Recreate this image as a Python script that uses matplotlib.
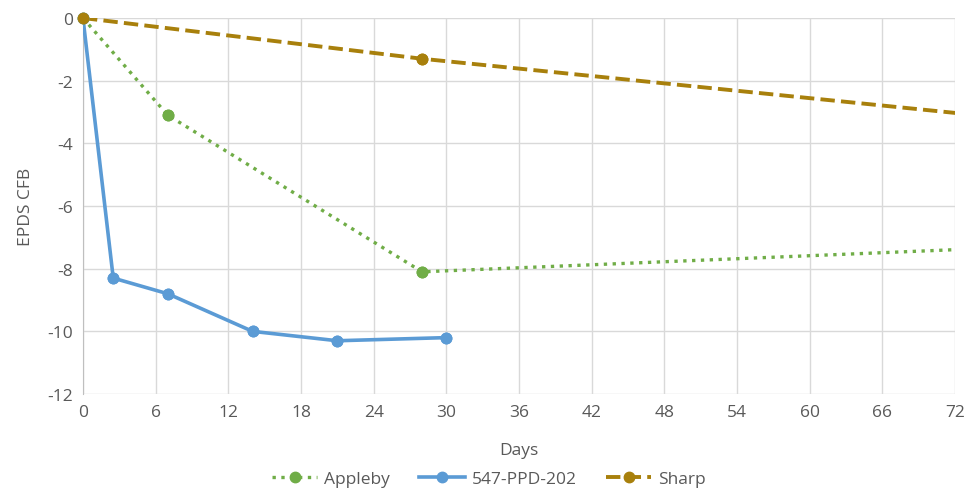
import matplotlib.pyplot as plt

plt.rcParams['font.family'] = ['Open Sans', 'DejaVu Sans']
plt.rcParams['axes.unicode_minus'] = False

# data
appleby_days = [0, 7, 28, 84]
appleby_cfb = [0, -3.1, -8.1, -7.2]

ppd_days = [0, 2.5, 7, 14, 21, 30]
ppd_cfb = [0, -8.3, -8.8, -10.0, -10.3, -10.2]

sharp_days = [0, 28, 84]
sharp_cfb = [0, -1.3, -3.5]

x_ticks = list(range(0, 73, 6))
y_ticks = list(range(-12, 1, 2))

green = '#70AD47'
blue = '#5B9BD5'
gold = '#A8800C'
txt = '#595959'

fig = plt.figure(figsize=(9.68, 4.89), dpi=100)
ax = fig.add_axes([0.0857, 0.1922, 0.9009, 0.7689])

series = [
    ('Appleby', appleby_days, appleby_cfb, green, ':', 2.4),
    ('547-PPD-202', ppd_days, ppd_cfb, blue, '-', 2.6),
    ('Sharp', sharp_days, sharp_cfb, gold, '--', 2.8),
]

for name, xs, ys, col, ls, lw in series:
    ax.plot(xs, ys, color=col, linestyle=ls, linewidth=lw, marker='o',
            markersize=7.5, label=name, zorder=3)
    # markers inside the range drawn unclipped so the ones on the edge show fully
    inx = [x for x in xs if x <= 72]
    iny = [y for x, y in zip(xs, ys) if x <= 72]
    ax.plot(inx, iny, linestyle='none', marker='o', markersize=7.5, color=col,
            clip_on=False, zorder=4)

ax.set_xlim(0, 72)
ax.set_ylim(-12, 0)
ax.set_xticks(x_ticks)
ax.set_yticks(y_ticks)
ax.grid(True, color='#D9D9D9', linewidth=1)
ax.set_axisbelow(True)
for s in ['top', 'right', 'bottom']:
    ax.spines[s].set_visible(False)
ax.spines['left'].set_color('#BFBFBF')
ax.tick_params(length=0, labelsize=12.5, colors=txt, pad=7)

ax.set_xlabel('Days', fontsize=12.5, color=txt, labelpad=16)
ax.set_ylabel('EPDS CFB', fontsize=12.5, color=txt, labelpad=10)

handles, labels = ax.get_legend_handles_labels()
fig.legend(handles[:3], labels[:3], loc='lower center', ncol=3, frameon=False,
           fontsize=12.5, bbox_to_anchor=(0.505, -0.03), handlelength=2.6,
           handletextpad=0.4, columnspacing=1.7, labelcolor=txt)

fig.savefig('out.png', dpi=100)
